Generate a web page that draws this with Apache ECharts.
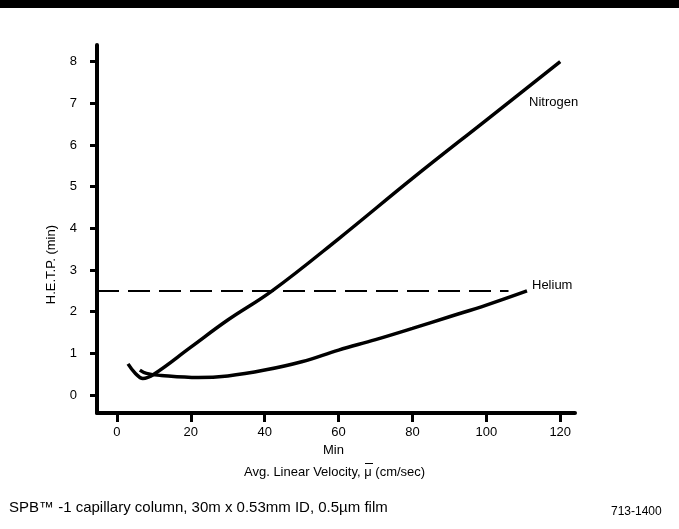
<!DOCTYPE html>
<html><head><meta charset="utf-8">
<script src="https://cdn.jsdelivr.net/npm/echarts@6/dist/echarts.min.js"></script>
<style>body{margin:0;background:#fff}#c{width:679px;height:529px}</style>
</head><body><div id="c"></div>
<script>
var xTicks = [0, 20, 40, 60, 80, 100, 120];
var yTicks = [0, 1, 2, 3, 4, 5, 6, 7, 8];
var nitrogen = [[3, 0.75], [5, 0.52], [7, 0.4], [10, 0.5], [20, 1.15], [30, 1.8], [42, 2.5], [60, 3.75], [80, 5.2], [100, 6.6], [120, 8]];
var helium = [[6.2, 0.6], [8, 0.52], [12, 0.47], [22, 0.42], [30, 0.46], [40, 0.6], [50, 0.8], [60, 1.08], [70, 1.33], [80, 1.6], [90, 1.88], [100, 2.16], [111, 2.5]];
var dashed = [[-5.4, 2.5], [106, 2.5]];

var chart = echarts.init(document.getElementById('c'));
var F = 'Liberation Sans, Arial, sans-serif';
chart.setOption({
  animation: false,
  backgroundColor: '#fff',
  grid: { left: 97, right: 104, top: 45, bottom: 116 },
  xAxis: {
    type: 'value', min: -5.4, max: 124,
    axisLine: { onZero: false, lineStyle: { color: '#000', width: 4 } },
    axisTick: { customValues: xTicks, length: 9, lineStyle: { color: '#000', width: 3 } },
    axisLabel: { customValues: xTicks, color: '#000', fontSize: 13, fontFamily: F, margin: 13 },
    splitLine: { show: false }
  },
  yAxis: {
    type: 'value', min: -0.43, max: 8.4,
    axisLine: { show: true, onZero: false, lineStyle: { color: '#000', width: 4 } },
    axisTick: { show: true, customValues: yTicks, length: 7, lineStyle: { color: '#000', width: 3 } },
    axisLabel: { customValues: yTicks, color: '#000', fontSize: 13, fontFamily: F, margin: 20 },
    splitLine: { show: false }
  },
  series: [
    { type: 'line', data: nitrogen, smooth: 0.4, showSymbol: false, lineStyle: { color: '#000', width: 3.5 } },
    { type: 'line', data: helium, smooth: 0.4, showSymbol: false, lineStyle: { color: '#000', width: 3.5 } },
    { type: 'line', data: dashed, showSymbol: false, lineStyle: { color: '#000', width: 2, type: [22, 9] } }
  ],
  graphic: [
    { type: 'rect', shape: { x: 0, y: 0, width: 679, height: 8 }, style: { fill: '#000' } },
    { type: 'text', left: 529, top: 96, style: { text: 'Nitrogen', fontSize: 13, fontFamily: F, fill: '#000' } },
    { type: 'text', left: 532, top: 279, style: { text: 'Helium', fontSize: 13, fontFamily: F, fill: '#000' } },
    { type: 'text', left: 45, top: 225, rotation: Math.PI / 2, originX: 0, originY: 0,
      style: { text: 'H.E.T.P. (min)', fontSize: 13, fontFamily: F, fill: '#000', align: 'center', verticalAlign: 'middle' } },
    { type: 'text', left: 323, top: 444, style: { text: 'Min', fontSize: 13, fontFamily: F, fill: '#000' } },
    { type: 'text', left: 244, top: 466, style: { text: 'Avg. Linear Velocity, μ (cm/sec)', fontSize: 13, fontFamily: F, fill: '#000' } },
    { type: 'rect', shape: { x: 365, y: 463, width: 8, height: 1 }, style: { fill: '#000' } },
    { type: 'text', left: 9, top: 500, style: { text: 'SPB™ -1 capillary column, 30m x 0.53mm ID, 0.5µm film', fontSize: 15, fontFamily: F, fill: '#000' } },
    { type: 'text', left: 611, top: 506, style: { text: '713-1400', fontSize: 12, fontFamily: F, fill: '#000' } }
  ]
});
</script></body></html>
